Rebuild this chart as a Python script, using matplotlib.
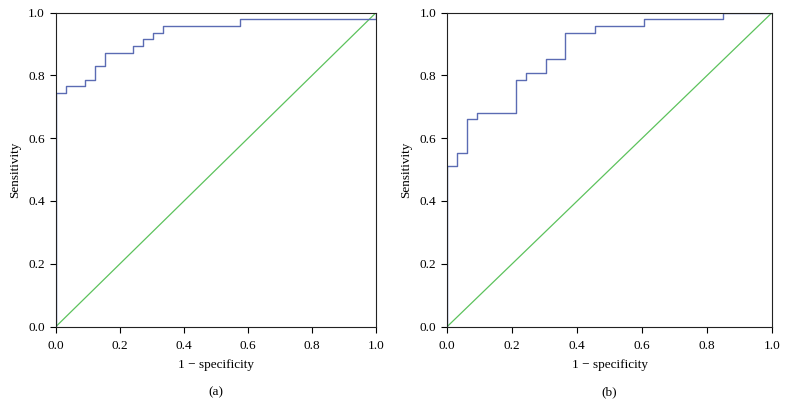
import matplotlib
matplotlib.use("Agg")
import matplotlib.pyplot as plt

# Panel (a) ROC step curve
fpr_a = [0.0, 0.0, 0.030, 0.030, 0.091, 0.091, 0.121, 0.121, 0.152, 0.152, 0.242, 0.242,
         0.273, 0.273, 0.303, 0.303, 0.333, 0.333, 0.576, 0.576, 1.0, 1.0]
sens_a = [0.0, 0.745, 0.745, 0.766, 0.766, 0.787, 0.787, 0.830, 0.830, 0.872, 0.872, 0.894,
          0.894, 0.915, 0.915, 0.936, 0.936, 0.957, 0.957, 0.979, 0.979, 1.0]

# Panel (b) ROC step curve
fpr_b = [0.0, 0.0, 0.030, 0.030, 0.061, 0.061, 0.091, 0.091, 0.212, 0.212, 0.242, 0.242,
         0.303, 0.303, 0.364, 0.364, 0.455, 0.455, 0.606, 0.606, 0.848, 0.848, 1.0]
sens_b = [0.0, 0.511, 0.511, 0.553, 0.553, 0.660, 0.660, 0.681, 0.681, 0.787, 0.787, 0.809,
          0.809, 0.851, 0.851, 0.936, 0.936, 0.957, 0.957, 0.979, 0.979, 1.0, 1.0]

ref_line = [0.0, 1.0]
ticks = [0.0, 0.2, 0.4, 0.6, 0.8, 1.0]
tick_labels = ["0.0", "0.2", "0.4", "0.6", "0.8", "1.0"]
panel_labels = ["(a)", "(b)"]

plt.rcParams['font.family'] = ['Liberation Serif', 'DejaVu Serif']
plt.rcParams['font.size'] = 9.5

fig = plt.figure(figsize=(7.85, 4.18), dpi=100)
W, H = 785, 418
boxes = [(56, 376), (447.3, 772)]
top_px, bot_px = 12.7, 326.5

curve_color = "#5b6bb3"
diag_color = "#5cc25c"

for (l, r), fx, sy, lab in zip(boxes, [fpr_a, fpr_b], [sens_a, sens_b], panel_labels):
    ax = fig.add_axes([l / W, 1 - bot_px / H, (r - l) / W, (bot_px - top_px) / H])
    ax.plot(ref_line, ref_line, color=diag_color, lw=0.9)
    ax.plot(fx, sy, color=curve_color, lw=1.0)
    ax.set_xlim(0, 1)
    ax.set_ylim(0, 1)
    ax.set_xticks(ticks)
    ax.set_xticklabels(tick_labels)
    ax.set_yticks(ticks)
    ax.set_yticklabels(tick_labels)
    ax.tick_params(direction='out', length=4, width=0.8, top=False, right=False)
    ax.tick_params(axis='x', pad=6)
    ax.tick_params(axis='y', pad=4)
    for s in ax.spines.values():
        s.set_linewidth(0.8)
        s.set_color('#222222')
    ax.set_xlabel("1 \u2212 specificity", labelpad=5)
    ax.set_ylabel("Sensitivity", labelpad=5)
    fig.text((l + r) / 2 / W, 1 - 392 / H, lab, ha='center', va='center')

fig.savefig("out.png", dpi=100)
